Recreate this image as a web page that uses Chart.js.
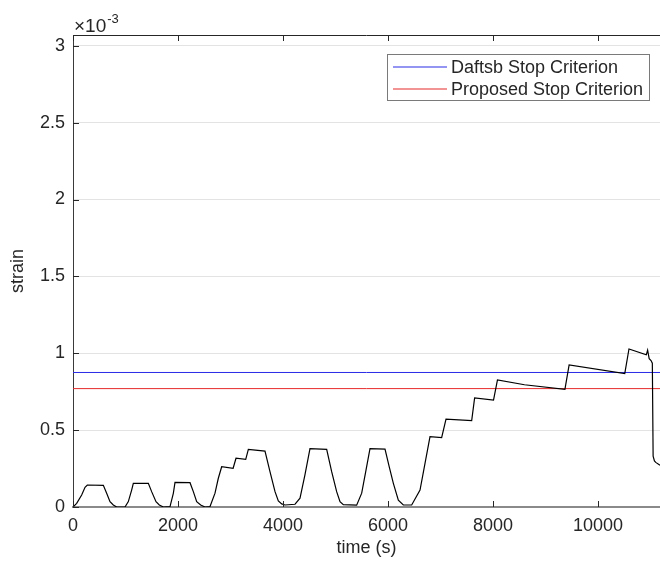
<!DOCTYPE html>
<html>
<head>
<meta charset="utf-8">
<script src="https://cdn.jsdelivr.net/npm/chart.js@4/dist/chart.umd.min.js"></script>
<style>
  html, body { margin: 0; padding: 0; background: #fff; }
  #wrap { width: 660px; height: 565px; position: relative; }
</style>
</head>
<body>
<div id="wrap"><canvas id="myChart"></canvas></div>
<script>
// time in seconds, strain in units of 1e-3 (axis shows "x10^-3")
const timeS = [
  0, 70, 165, 229, 273, 578, 641, 705, 768, 832,
  990, 1054, 1117, 1149, 1435, 1498, 1581, 1644, 1721,
  1848, 1911, 1943, 2229, 2292, 2356, 2432, 2514,
  2610, 2705, 2768, 2832, 3050, 3105, 3290, 3340, 3657, 3752, 3848, 3911, 3975, 4038,
  4229, 4324, 4419, 4514, 4832, 4927, 5022, 5086, 5149, 5403,
  5499, 5581, 5657, 5943, 6025, 6102, 6197, 6292, 6451,
  6610, 6705, 6800, 7022, 7105, 7594, 7650, 8010, 8085, 8600, 9370,
  9450, 10510, 10590, 10920, 10945, 10975, 11010, 11035, 11050, 11075, 11100, 11181,
];
const strainE3 = [
  0, 0.024, 0.078, 0.128, 0.143, 0.141, 0.089, 0.035, 0.013, 0,
  0, 0.035, 0.11, 0.154, 0.154, 0.1, 0.035, 0.013, 0,
  0.003, 0.089, 0.16, 0.158, 0.1, 0.035, 0.013, 0,
  0.003, 0.09, 0.187, 0.262, 0.252, 0.317, 0.31, 0.375, 0.364, 0.23, 0.1, 0.04, 0.02, 0.013,
  0.018, 0.057, 0.21, 0.38, 0.375, 0.23, 0.1, 0.035, 0.015, 0.012,
  0.09, 0.24, 0.38, 0.377, 0.26, 0.154, 0.045, 0.013, 0.013,
  0.11, 0.284, 0.457, 0.451, 0.571, 0.562, 0.71, 0.695, 0.826, 0.795, 0.766,
  0.924, 0.868, 1.028, 0.99, 1.02, 0.965, 0.953, 0.935, 0.33, 0.3, 0.29, 0.272,
];

const daftsbStop = 0.875;
const proposedStop = 0.77;

const xTicks = [0, 2000, 4000, 6000, 8000, 10000];
const yTicks = [0, 0.5, 1, 1.5, 2, 2.5, 3];
const xMin = 0;
const xMax = 11181;
const yMin = 0;
const yMax = 3.07;

const seriesNames = ["Daftsb Stop Criterion", "Proposed Stop Criterion"];
const seriesColors = ["#2a2ae6", "#e62a2a"];

const axisColor = "#262626";
const fontFamily = "'Liberation Sans', Arial, sans-serif";

const curvePoints = timeS.map((t, i) => ({ x: t, y: strainE3[i] }));

// inside tick marks, top box edge, the x10^-3 multiplier and the legend box
const matlabLook = {
  id: "matlabLook",
  afterDraw(chart) {
    const { ctx, chartArea: a, scales } = chart;
    ctx.save();
    ctx.strokeStyle = axisColor;
    ctx.lineWidth = 1;
    ctx.beginPath();
    ctx.moveTo(a.left, a.top + 0.5);
    ctx.lineTo(a.right, a.top + 0.5);
    ctx.stroke();
    ctx.beginPath();
    scales.x.ticks.forEach((tk) => {
      const px = Math.round(scales.x.getPixelForValue(tk.value)) + 0.5;
      ctx.moveTo(px, a.bottom);
      ctx.lineTo(px, a.bottom - 6);
      ctx.moveTo(px, a.top);
      ctx.lineTo(px, a.top + 6);
    });
    scales.y.ticks.forEach((tk) => {
      const py = Math.round(scales.y.getPixelForValue(tk.value)) + 0.5;
      ctx.moveTo(a.left, py);
      ctx.lineTo(a.left + 6, py);
    });
    ctx.stroke();

    // exponent label
    ctx.fillStyle = axisColor;
    ctx.textBaseline = "alphabetic";
    ctx.textAlign = "left";
    ctx.font = "19px " + fontFamily;
    ctx.fillText("\u00d710", 74, 32);
    const w = ctx.measureText("\u00d710").width;
    ctx.font = "13px " + fontFamily;
    ctx.fillText("-3", 74 + w + 1, 23);

    // legend
    const lx = 387.5, ly = 54.5, lw = 262, lh = 46;
    ctx.fillStyle = "#fff";
    ctx.fillRect(lx, ly, lw, lh);
    ctx.strokeStyle = "#7a7a7a";
    ctx.strokeRect(lx, ly, lw, lh);
    ctx.font = "18px " + fontFamily;
    ctx.textBaseline = "middle";
    const rows = [67, 89];
    seriesNames.forEach((name, i) => {
      ctx.strokeStyle = seriesColors[i];
      ctx.lineWidth = 1.2;
      ctx.beginPath();
      ctx.moveTo(393, rows[i]);
      ctx.lineTo(447, rows[i]);
      ctx.stroke();
      ctx.fillStyle = axisColor;
      ctx.fillText(name, 451, rows[i] + 1);
    });
    ctx.restore();
  },
};

const ctx = document.querySelector("#myChart");
const myChart = new Chart(ctx, {
  type: "line",
  data: {
    datasets: [
      {
        label: "strain",
        data: curvePoints,
        borderColor: "#000000",
        borderWidth: 1.2,
        pointRadius: 0,
        tension: 0,
      },
      {
        label: seriesNames[0],
        data: [{ x: xMin, y: daftsbStop }, { x: xMax, y: daftsbStop }],
        borderColor: seriesColors[0],
        borderWidth: 1,
        pointRadius: 0,
      },
      {
        label: seriesNames[1],
        data: [{ x: xMin, y: proposedStop }, { x: xMax, y: proposedStop }],
        borderColor: seriesColors[1],
        borderWidth: 1,
        pointRadius: 0,
      },
    ],
  },
  options: {
    responsive: true,
    maintainAspectRatio: false,
    animation: false,
    layout: { padding: { top: 35, right: 0, left: 0, bottom: 0 } },
    plugins: {
      legend: { display: false },
      tooltip: { enabled: false },
    },
    scales: {
      x: {
        type: "linear",
        min: xMin,
        max: xMax,
        afterBuildTicks: (s) => { s.ticks = xTicks.map((v) => ({ value: v })); },
        afterFit: (s) => { s.height = 58; },
        grid: { drawOnChartArea: false, drawTicks: false },
        border: { color: "#8a8a8a", width: 2 },
        ticks: {
          padding: 8,
          color: axisColor,
          font: { family: fontFamily, size: 18 },
          maxRotation: 0,
          autoSkip: false,
          callback: (v) => String(v),
        },
        title: {
          display: true,
          text: "time (s)",
          color: axisColor,
          font: { family: fontFamily, size: 18 },
          padding: { bottom: 6 },
        },
      },
      y: {
        min: yMin,
        max: yMax,
        afterBuildTicks: (s) => { s.ticks = yTicks.map((v) => ({ value: v })); },
        afterFit: (s) => { s.width = 73; },
        grid: { color: "#e3e3e3", drawTicks: false },
        border: { color: "#3a3a3a", width: 1 },
        ticks: {
          padding: 8,
          color: axisColor,
          font: { family: fontFamily, size: 18 },
          callback: (v) => String(v),
        },
        title: {
          display: true,
          text: "strain",
          color: axisColor,
          font: { family: fontFamily, size: 18 },
          padding: { top: 7 },
        },
      },
    },
  },
  plugins: [matlabLook],
});
</script>
</body>
</html>
